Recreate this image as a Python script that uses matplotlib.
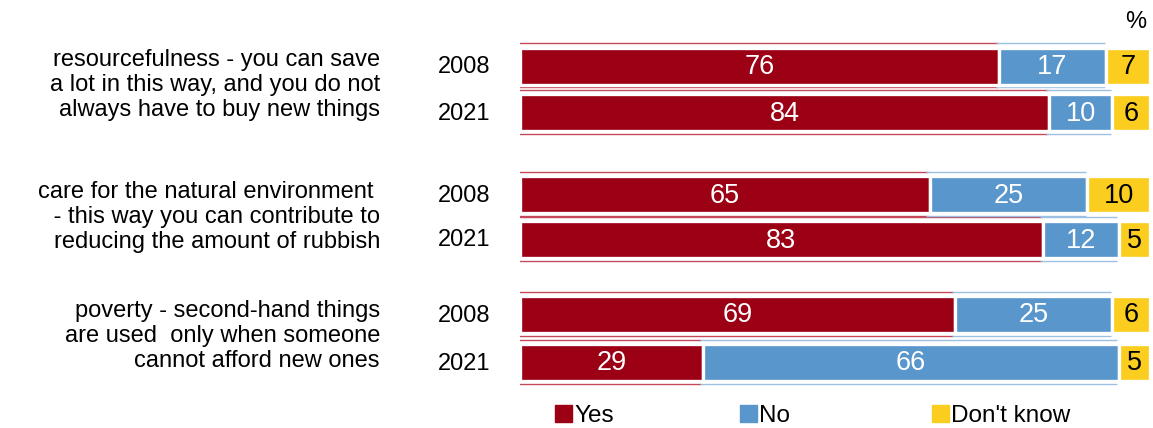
import numpy as np
import matplotlib.pyplot as plt
from matplotlib.patches import Rectangle

plt.rcParams['font.family'] = ['Liberation Sans', 'DejaVu Sans']

# data
categories = [
    "resourcefulness - you can save\na lot in this way, and you do not\nalways have to buy new things",
    "care for the natural environment \n - this way you can contribute to\nreducing the amount of rubbish",
    "poverty - second-hand things\nare used  only when someone\ncannot afford new ones",
]
years = ["2008", "2021", "2008", "2021", "2008", "2021"]
yes = [76, 84, 65, 83, 69, 29]
no = [17, 10, 25, 12, 25, 66]
dont_know = [7, 6, 10, 5, 6, 5]
series_names = ["Yes", "No", "Don't know"]

colors = ["#9b0014", "#5896cc", "#fbcd1e"]
ghost_colors = ["#c2485a", "#9cc0e2", None]
txt_colors = ["white", "white", "black"]

W, H = 1153, 428
fig = plt.figure(figsize=(W / 100, H / 100), dpi=100, facecolor='white')

# bar area, y measured in pixels from the top
row_y = np.array([66, 112.5, 194.5, 239.5, 314.5, 362.5])
ax = fig.add_axes([520 / W, 0, 630 / W, 1])
ax.set_xlim(0, 100)
ax.set_ylim(H, 0)
ax.axis('off')

left = np.zeros(len(yes))
for vals, col, gcol, tc in zip([yes, no, dont_know], colors, ghost_colors, txt_colors):
    vals = np.array(vals)
    # faint offset lines seen above/below the bars in the original
    if gcol is not None:
        ax.hlines(row_y - 23, left - 0.5, left + vals - 0.2, color=gcol, lw=1.0, zorder=1)
        ax.hlines(row_y + 21, left - 0.5, left + vals - 0.2, color=gcol, lw=1.0, zorder=1)
    ax.barh(row_y, vals, left=left, height=37, color=col,
            edgecolor='white', linewidth=2.4, zorder=2)
    for y, l, v in zip(row_y, left, vals):
        ax.text(l + v / 2, y + 1, str(v), ha='center', va='center',
                color=tc, fontsize=19.5, zorder=3)
    left += vals

# year labels
for y, yr in zip(row_y, years):
    fig.text(490 / W, 1 - (y + 1) / H, yr, ha='right', va='center', fontsize=17)

# category labels
cat_y = [85, 217, 336]
for y, c in zip(cat_y, categories):
    fig.text(380 / W, 1 - y / H, c, ha='right', va='center', fontsize=17,
             linespacing=1.2, multialignment='right')

fig.text(1146 / W, 1 - 22 / H, "%", ha='right', va='center', fontsize=17)

# legend
leg_x = [555, 740, 932]
for x, col, name in zip(leg_x, colors, series_names):
    fig.add_artist(Rectangle((x / W, 1 - 422 / H), 17 / W, 17 / H,
                             transform=fig.transFigure, color=col))
    fig.text((x + 19) / W, 1 - 416 / H, name, ha='left', va='center', fontsize=17.5)

fig.savefig('out.png', dpi=100, facecolor='white')
